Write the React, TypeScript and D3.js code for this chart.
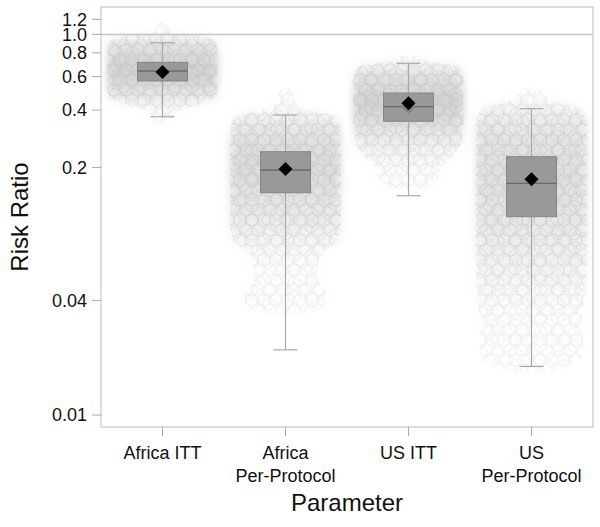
import React from "react";
import * as d3 from "d3";

const categories = ["Africa ITT", "Africa Per-Protocol", "US ITT", "US Per-Protocol"];
const labelLines = [["Africa ITT"], ["Africa", "Per-Protocol"], ["US ITT"], ["US", "Per-Protocol"]];
const q1 = [0.569, 0.1473, 0.3494, 0.1102];
const median = [0.642, 0.1939, 0.417, 0.165];
const q3 = [0.713, 0.2419, 0.492, 0.2277];
const whiskerLow = [0.369, 0.022, 0.142, 0.0180];
const whiskerHigh = [0.904, 0.377, 0.705, 0.407];
const means = [0.634, 0.1962, 0.4345, 0.1733];
const estimates = [0.634, 0.1962, 0.417, 0.1733];
const yTicks = [0.01, 0.04, 0.2, 0.4, 0.6, 0.8, 1.0, 1.2];
const yTickLabels = ["0.01", "0.04", "0.2", "0.4", "0.6", "0.8", "1.0", "1.2"];
const referenceValue = 1.0;

// cloud profiles of the simulated draws: [value, relative half-width, relative density]
const cloudAfricaITT: [number, number, number][] = [
  [1.16, 0.1, 0.03], [1.03, 0.14, 0.08], [0.965, 0.8, 0.3], [0.9, 0.97, 0.55],
  [0.78, 1, 0.85], [0.634, 1, 1], [0.53, 1, 0.8], [0.47, 0.96, 0.5],
  [0.435, 0.7, 0.25], [0.39, 0.25, 0.1], [0.34, 0.16, 0.03],
];
const cloudAfricaPP: [number, number, number][] = [
  [0.52, 0.12, 0.03], [0.42, 0.2, 0.1], [0.37, 0.88, 0.3], [0.33, 0.98, 0.5],
  [0.25, 1, 0.75], [0.19, 1, 0.8], [0.14, 1, 0.62], [0.1, 1, 0.4],
  [0.083, 0.95, 0.25], [0.07, 0.65, 0.12], [0.058, 0.58, 0.06], [0.05, 0.6, 0.04],
  [0.043, 0.75, 0.05], [0.037, 0.7, 0.03], [0.034, 0.2, 0.01],
];
const cloudUSITT: [number, number, number][] = [
  [0.77, 0.12, 0.03], [0.72, 0.35, 0.15], [0.68, 0.88, 0.35], [0.62, 0.98, 0.6],
  [0.5, 1, 0.9], [0.43, 1, 1], [0.35, 1, 0.75], [0.28, 0.97, 0.4],
  [0.23, 0.8, 0.2], [0.2, 0.6, 0.1], [0.17, 0.5, 0.05], [0.155, 0.3, 0.02],
];
const cloudUSPP: [number, number, number][] = [
  [0.52, 0.15, 0.03], [0.45, 0.4, 0.1], [0.4, 0.92, 0.3], [0.34, 1, 0.48],
  [0.25, 1, 0.65], [0.17, 1, 0.7], [0.11, 1, 0.55], [0.07, 1, 0.35],
  [0.045, 0.98, 0.16], [0.035, 0.95, 0.07], [0.03, 0.9, 0.04], [0.025, 0.95, 0.03],
  [0.02, 0.9, 0.02], [0.0168, 0.3, 0.01],
];
const clouds = [cloudAfricaITT, cloudAfricaPP, cloudUSITT, cloudUSPP];

const W = 600, H = 527;
const left = 101, right = 593, top = 7, bottom = 427;
const font = "'Liberation Sans', Arial, Helvetica, sans-serif";

export default function App() {
  const y = d3.scaleLog().domain([0.00865, 1.393]).range([bottom, top]);
  const x = d3.scalePoint<string>().domain(categories).range([left, right]).padding(0.5);
  const half = x.step() * 0.45;
  const boxW = 50, capW = 24, dm = 7;

  const areaFor = (i: number) => {
    const cx = x(categories[i])!;
    return d3.area<[number, number, number]>()
      .y((p) => y(p[0]))
      .x0((p) => cx - p[1] * half)
      .x1((p) => cx + p[1] * half)
      .curve(d3.curveMonotoneY)(clouds[i])!;
  };

  return (
    <svg width={W} height={H} style={{ position: "absolute", left: 0, top: 0, background: "#fff" }}
      fontFamily={font}>
      <defs>
        <pattern id="circA" width={12} height={20} patternUnits="userSpaceOnUse">
          {[[0, 0], [12, 0], [6, 10], [0, 20], [12, 20]].map(([cx, cy], i) => (
            <circle key={i} cx={cx} cy={cy} r={6} fill="none" stroke="#d2d2d2" strokeWidth={0.6} />
          ))}
        </pattern>
        <pattern id="circB" width={17} height={14} patternUnits="userSpaceOnUse" patternTransform="translate(5,3)">
          {[[0, 0], [17, 0], [8.5, 7], [0, 14], [17, 14]].map(([cx, cy], i) => (
            <circle key={i} cx={cx} cy={cy} r={6} fill="none" stroke="#dadada" strokeWidth={0.5} />
          ))}
        </pattern>
        <filter id="blur" x="-20%" y="-20%" width="140%" height="140%">
          <feGaussianBlur stdDeviation={4} />
        </filter>
        <filter id="soft" x="-5%" y="-5%" width="110%" height="110%">
          <feGaussianBlur stdDeviation={0.5} />
        </filter>
        {clouds.map((c, i) => {
          const y1 = y(c[0][0]), y2 = y(c[c.length - 1][0]);
          return (
            <linearGradient key={i} id={`g${i}`} gradientUnits="userSpaceOnUse" x1={0} x2={0} y1={y1} y2={y2}>
              {c.map((p, j) => (
                <stop key={j} offset={(y(p[0]) - y1) / (y2 - y1)} stopColor="#b4b4b4" stopOpacity={p[2] * 0.6} />
              ))}
            </linearGradient>
          );
        })}
        {clouds.map((c, i) => {
          const y1 = y(c[0][0]), y2 = y(c[c.length - 1][0]);
          return (
            <linearGradient key={i} id={`m${i}`} gradientUnits="userSpaceOnUse" x1={0} x2={0} y1={y1} y2={y2}>
              {c.map((p, j) => (
                <stop key={j} offset={(y(p[0]) - y1) / (y2 - y1)} stopColor="#fff" stopOpacity={0.45 + 0.55 * Math.min(1, p[2] * 2)} />
              ))}
            </linearGradient>
          );
        })}
        {clouds.map((c, i) => (
          <mask key={i} id={`k${i}`} maskUnits="userSpaceOnUse" x={0} y={0} width={W} height={H}>
            <path d={areaFor(i)} fill={`url(#m${i})`} />
          </mask>
        ))}
      </defs>

      {/* frame */}
      <rect x={left} y={top} width={right - left} height={bottom - top} fill="none" stroke="#c8c8c8" strokeWidth={1.2} />

      {/* clouds */}
      {clouds.map((c, i) => {
        const cx = x(categories[i])!;
        return (
          <g key={i}>
            <g mask={`url(#k${i})`}>
              <g filter="url(#soft)">
                <rect x={cx - half - 10} y={top} width={2 * half + 20} height={bottom - top} fill="url(#circA)" />
                <rect x={cx - half - 10} y={top} width={2 * half + 20} height={bottom - top} fill="url(#circB)" />
              </g>
            </g>
            <path d={areaFor(i)} fill={`url(#g${i})`} filter="url(#blur)" />
          </g>
        );
      })}

      {/* reference line */}
      <line x1={left} x2={right} y1={y(referenceValue)} y2={y(referenceValue)} stroke="#c4c4c4" strokeWidth={1.5} />

      {/* boxes */}
      {categories.map((c, i) => {
        const cx = x(c)!;
        return (
          <g key={c}>
            <line x1={cx} x2={cx} y1={y(whiskerHigh[i])} y2={y(q3[i])} stroke="#a8a8a8" strokeWidth={1.2} />
            <line x1={cx} x2={cx} y1={y(q1[i])} y2={y(whiskerLow[i])} stroke="#a8a8a8" strokeWidth={1.2} />
            <line x1={cx - capW / 2} x2={cx + capW / 2} y1={y(whiskerHigh[i])} y2={y(whiskerHigh[i])} stroke="#a8a8a8" strokeWidth={1.2} />
            <line x1={cx - capW / 2} x2={cx + capW / 2} y1={y(whiskerLow[i])} y2={y(whiskerLow[i])} stroke="#a8a8a8" strokeWidth={1.2} />
            <rect x={cx - boxW / 2} y={y(q3[i])} width={boxW} height={y(q1[i]) - y(q3[i])}
              fill="#999999" stroke="#858585" strokeWidth={1} />
            <line x1={cx - boxW / 2} x2={cx + boxW / 2} y1={y(median[i])} y2={y(median[i])} stroke="#6a6a6a" strokeWidth={1.3} />
            <path d={`M${cx},${y(estimates[i]) - dm}L${cx + dm},${y(estimates[i])}L${cx},${y(estimates[i]) + dm}L${cx - dm},${y(estimates[i])}Z`}
              fill="#808080" />
            <path d={`M${cx},${y(means[i]) - dm}L${cx + dm},${y(means[i])}L${cx},${y(means[i]) + dm}L${cx - dm},${y(means[i])}Z`}
              fill="#000" />
          </g>
        );
      })}

      {/* y axis */}
      {yTicks.map((t, i) => (
        <g key={t} transform={`translate(0,${y(t)})`}>
          <line x1={92} x2={left} stroke="#aaa" strokeWidth={1} />
          <text x={87} dy="0.35em" textAnchor="end" fontSize={18} fill="#111">{yTickLabels[i]}</text>
        </g>
      ))}
      <text transform={`translate(28,${(top + bottom) / 2}) rotate(-90)`} textAnchor="middle" fontSize={24} fill="#111">Risk Ratio</text>

      {/* x axis */}
      {categories.map((c, i) => {
        const cx = x(c)!;
        return (
          <g key={c}>
            <line x1={cx} x2={cx} y1={bottom} y2={bottom + 9} stroke="#aaa" strokeWidth={1} />
            {labelLines[i].map((l, j) => (
              <text key={j} x={cx} y={459 + j * 23} textAnchor="middle" fontSize={18} fill="#111">{l}</text>
            ))}
          </g>
        );
      })}
      <text x={(left + right) / 2} y={511} textAnchor="middle" fontSize={24} fill="#111">Parameter</text>
    </svg>
  );
}
